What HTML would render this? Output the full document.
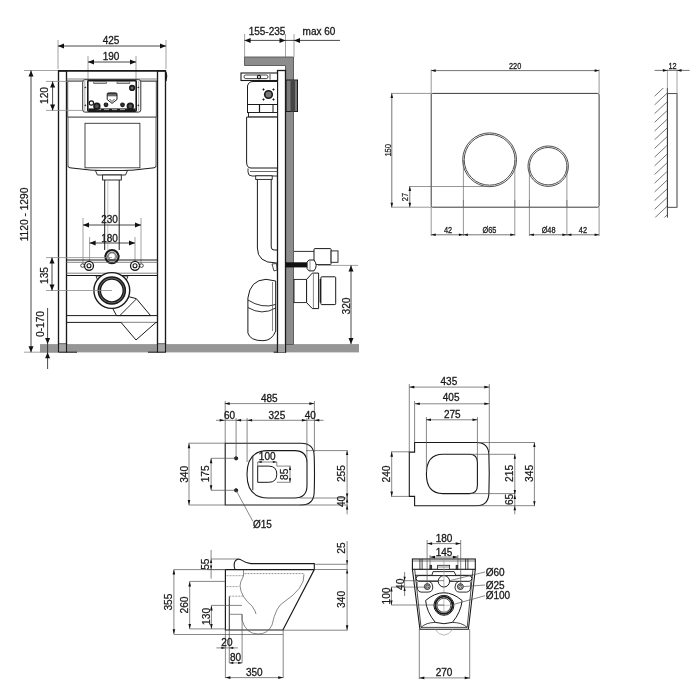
<!DOCTYPE html><html><head><meta charset="utf-8"><style>html,body{margin:0;padding:0;background:#fff;overflow:hidden;}svg{display:block;will-change:transform;}text{font-family:"Liberation Sans",sans-serif;}</style></head><body>
<svg width="700" height="700" viewBox="0 0 700 700">
<rect width="700" height="700" fill="#fff"/>
<rect x="40" y="344.1" width="319" height="8.3" rx="0" stroke="none" stroke-width="0" fill="#969696" />
<line x1="58" y1="40" x2="58" y2="69" stroke="#8a8a8a" stroke-width="0.8" />
<line x1="166" y1="40" x2="166" y2="69" stroke="#8a8a8a" stroke-width="0.8" />
<line x1="58" y1="46" x2="166" y2="46" stroke="#1a1a1a" stroke-width="0.8" />
<polygon points="58.00,46.00 64.00,43.50 64.00,48.50" fill="#111"/>
<polygon points="166.00,46.00 160.00,43.50 160.00,48.50" fill="#111"/>
<text x="0" y="3.58" font-size="10.00" fill="#1a1a1a" stroke="#1a1a1a" stroke-width="0.3" text-anchor="middle" transform="translate(111,40.5) scale(1.0,1)">425</text>
<line x1="88" y1="56" x2="88" y2="79" stroke="#8a8a8a" stroke-width="0.8" />
<line x1="136" y1="56" x2="136" y2="79" stroke="#8a8a8a" stroke-width="0.8" />
<line x1="88" y1="62" x2="136" y2="62" stroke="#1a1a1a" stroke-width="0.8" />
<polygon points="88.00,62.00 94.00,59.50 94.00,64.50" fill="#111"/>
<polygon points="136.00,62.00 130.00,59.50 130.00,64.50" fill="#111"/>
<text x="0" y="3.58" font-size="10.00" fill="#1a1a1a" stroke="#1a1a1a" stroke-width="0.3" text-anchor="middle" transform="translate(111,56.5) scale(1.0,1)">190</text>
<rect x="58.5" y="70.7" width="8" height="273.4" rx="0" stroke="#1a1a1a" stroke-width="1.35" fill="#fff" />
<rect x="157.5" y="70.7" width="8" height="273.4" rx="0" stroke="#1a1a1a" stroke-width="1.35" fill="#fff" />
<rect x="58.5" y="344.1" width="8" height="8.1" rx="0" stroke="none" stroke-width="0" fill="#a4a4a4" />
<rect x="157.5" y="344.1" width="8" height="8.1" rx="0" stroke="none" stroke-width="0" fill="#a4a4a4" />
<line x1="58.5" y1="344" x2="58.5" y2="352.5" stroke="#1a1a1a" stroke-width="1.1" />
<line x1="66.5" y1="344" x2="66.5" y2="352.5" stroke="#1a1a1a" stroke-width="1.1" />
<line x1="157.5" y1="344" x2="157.5" y2="352.5" stroke="#1a1a1a" stroke-width="1.1" />
<line x1="165.5" y1="344" x2="165.5" y2="352.5" stroke="#1a1a1a" stroke-width="1.1" />
<line x1="59" y1="352.2" x2="77" y2="352.2" stroke="#1a1a1a" stroke-width="1" />
<line x1="148" y1="352.2" x2="165.5" y2="352.2" stroke="#1a1a1a" stroke-width="1" />
<line x1="58.5" y1="70.9" x2="165.5" y2="70.9" stroke="#1a1a1a" stroke-width="1.6" />
<path d="M166,72 Q167.5,76 166,81" stroke="#1a1a1a" stroke-width="1.2" fill="none" />
<line x1="66.5" y1="79" x2="157.5" y2="79" stroke="#666" stroke-width="0.8" />
<line x1="66.5" y1="81.1" x2="157.5" y2="81.1" stroke="#1a1a1a" stroke-width="1.0" />
<line x1="67.7" y1="117.1" x2="156.3" y2="117.1" stroke="#1a1a1a" stroke-width="0.9" />
<line x1="67.7" y1="81.1" x2="67.7" y2="117.1" stroke="#333" stroke-width="0.8" />
<line x1="156.3" y1="81.1" x2="156.3" y2="117.1" stroke="#333" stroke-width="0.8" />
<rect x="82.7" y="79.7" width="58.1" height="32.4" rx="2.2" stroke="#333" stroke-width="1.0" fill="#fff" />
<line x1="84.8" y1="81" x2="84.8" y2="110.8" stroke="#999" stroke-width="0.8" />
<line x1="138.7" y1="81" x2="138.7" y2="110.8" stroke="#999" stroke-width="0.8" />
<circle cx="85.3" cy="87.4" r="0.5" stroke="#1a1a1a" stroke-width="0.6" fill="#1a1a1a" />
<circle cx="85.3" cy="105.3" r="0.5" stroke="#1a1a1a" stroke-width="0.6" fill="#1a1a1a" />
<circle cx="138.3" cy="87.4" r="0.5" stroke="#1a1a1a" stroke-width="0.6" fill="#1a1a1a" />
<circle cx="138.3" cy="105.3" r="0.5" stroke="#1a1a1a" stroke-width="0.6" fill="#1a1a1a" />
<rect x="87.8" y="80.6" width="48.4" height="30.6" rx="1" stroke="#1a1a1a" stroke-width="1.6" fill="#fff" />
<rect x="93.7" y="81.8" width="12.8" height="1.6" rx="0" stroke="#444" stroke-width="0.7" fill="#ddd" />
<rect x="117" y="81.8" width="12.8" height="1.6" rx="0" stroke="#444" stroke-width="0.7" fill="#ddd" />
<rect x="88.5" y="108.4" width="47" height="2.8" rx="0" stroke="none" stroke-width="0" fill="#1a1a1a" />
<line x1="96" y1="109.6" x2="101" y2="109.6" stroke="#fff" stroke-width="0.6" />
<line x1="104" y1="109.6" x2="109" y2="109.6" stroke="#fff" stroke-width="0.6" />
<line x1="112" y1="109.6" x2="117" y2="109.6" stroke="#fff" stroke-width="0.6" />
<line x1="120" y1="109.6" x2="125" y2="109.6" stroke="#fff" stroke-width="0.6" />
<circle cx="91.4" cy="103" r="2.2" stroke="#1a1a1a" stroke-width="1.2" fill="#fff" />
<circle cx="96.9" cy="106.2" r="2.8" stroke="#1a1a1a" stroke-width="1.8" fill="#555" />
<circle cx="130.3" cy="106.2" r="2.8" stroke="#1a1a1a" stroke-width="1.8" fill="#555" />
<circle cx="106" cy="104.8" r="1.8" stroke="#1a1a1a" stroke-width="1.2" fill="#333" />
<circle cx="122.5" cy="104.8" r="1.8" stroke="#1a1a1a" stroke-width="1.2" fill="#333" />
<circle cx="132.1" cy="87.9" r="2.3" stroke="#1a1a1a" stroke-width="1.6" fill="#666" />
<path d="M107.2,94 Q107.2,92.9 108.5,92.9 L115.7,92.9 Q117,92.9 117,94 L117,99.5 L112,103.4 L107.2,99.5 Z" stroke="#1a1a1a" stroke-width="1.0" fill="#fff" />
<rect x="107.5" y="93.2" width="9.2" height="3" rx="0" stroke="none" stroke-width="0" fill="#1a1a1a" />
<line x1="108" y1="95" x2="116" y2="95" stroke="#fff" stroke-width="0.7" />
<path d="M109.5,99 L112,101.5 L114.5,99" stroke="#1a1a1a" stroke-width="0.8" fill="none" />
<rect x="85" y="123.3" width="54.9" height="44.5" rx="0" stroke="#333" stroke-width="0.9" fill="none" />
<line x1="68" y1="117.1" x2="68" y2="166" stroke="#333" stroke-width="0.8" />
<line x1="156" y1="117.1" x2="156" y2="166" stroke="#333" stroke-width="0.8" />
<path d="M68,166 Q68,167.5 70,167.8 Q112,174 154,167.8 Q156,167.5 156,166" stroke="#1a1a1a" stroke-width="1.0" fill="none" />
<path d="M95.4,170.5 L127.5,170.5 L125.5,175 L97.4,175 Z" stroke="#1a1a1a" stroke-width="0.9" fill="#fff" />
<rect x="102.6" y="175" width="18.7" height="5" rx="0" stroke="#1a1a1a" stroke-width="0.9" fill="#fff" />
<line x1="104.7" y1="180" x2="104.7" y2="250" stroke="#1a1a1a" stroke-width="1.0" />
<line x1="119.2" y1="180" x2="119.2" y2="250" stroke="#1a1a1a" stroke-width="1.0" />
<line x1="107.8" y1="180" x2="107.8" y2="250" stroke="#aaa" stroke-width="0.7" />
<line x1="83" y1="218" x2="83" y2="266" stroke="#8a8a8a" stroke-width="0.8" />
<line x1="141" y1="218" x2="141" y2="266" stroke="#8a8a8a" stroke-width="0.8" />
<line x1="83" y1="225" x2="141" y2="225" stroke="#1a1a1a" stroke-width="0.8" />
<polygon points="83.00,225.00 89.00,222.50 89.00,227.50" fill="#111"/>
<polygon points="141.00,225.00 135.00,222.50 135.00,227.50" fill="#111"/>
<text x="0" y="3.58" font-size="10.00" fill="#1a1a1a" stroke="#1a1a1a" stroke-width="0.3" text-anchor="middle" transform="translate(109.5,219.3) scale(1.0,1)">230</text>
<line x1="89.6" y1="237" x2="89.6" y2="266" stroke="#8a8a8a" stroke-width="0.8" />
<line x1="135" y1="237" x2="135" y2="266" stroke="#8a8a8a" stroke-width="0.8" />
<line x1="89.6" y1="243" x2="135" y2="243" stroke="#1a1a1a" stroke-width="0.8" />
<polygon points="89.60,243.00 95.60,240.50 95.60,245.50" fill="#111"/>
<polygon points="135.00,243.00 129.00,240.50 129.00,245.50" fill="#111"/>
<text x="0" y="3.58" font-size="10.00" fill="#1a1a1a" stroke="#1a1a1a" stroke-width="0.3" text-anchor="middle" transform="translate(109.5,238.5) scale(1.0,1)">180</text>
<circle cx="112" cy="256.6" r="6.6" stroke="#1a1a1a" stroke-width="2.2" fill="#fff" />
<circle cx="112" cy="256.6" r="4.4" stroke="#444" stroke-width="0.9" fill="#ddd" />
<path d="M109,254 L112,252.8 L115,254 L115.5,257 L113,259.8 L110,259.5 L108.5,257 Z" stroke="#666" stroke-width="0.7" fill="#fff" />
<line x1="66.5" y1="260" x2="157.5" y2="260" stroke="#1a1a1a" stroke-width="1.0" />
<line x1="66.5" y1="262.3" x2="157.5" y2="262.3" stroke="#666" stroke-width="0.8" />
<line x1="66.5" y1="273.2" x2="157.5" y2="273.2" stroke="#666" stroke-width="0.8" />
<line x1="66.5" y1="275.5" x2="157.5" y2="275.5" stroke="#1a1a1a" stroke-width="1.0" />
<circle cx="89" cy="265.8" r="4.5" stroke="#1a1a1a" stroke-width="1.3" fill="#fff" />
<circle cx="89" cy="265.8" r="2.0" stroke="#1a1a1a" stroke-width="1.1" fill="none" />
<circle cx="135" cy="265.8" r="4.5" stroke="#1a1a1a" stroke-width="1.3" fill="#fff" />
<circle cx="135" cy="265.8" r="2.0" stroke="#1a1a1a" stroke-width="1.1" fill="none" />
<circle cx="82.5" cy="265.6" r="1.8" stroke="#1a1a1a" stroke-width="0.8" fill="#fff" />
<circle cx="141.5" cy="265.6" r="1.8" stroke="#1a1a1a" stroke-width="0.8" fill="#fff" />
<path d="M96,276 L128,276 L126,281 L98,281 Z" stroke="#1a1a1a" stroke-width="0.9" fill="#fff" />
<path d="M113,309 L129.4,296.9 L136.3,298.6 L150.6,315.6 L116.5,315.6 Z" stroke="#1a1a1a" stroke-width="1.0" fill="#fff" />
<line x1="120.3" y1="315.1" x2="136.3" y2="299" stroke="#1a1a1a" stroke-width="0.9" />
<circle cx="111.8" cy="290.5" r="17.9" stroke="#1a1a1a" stroke-width="1.4" fill="#fff" />
<circle cx="111.8" cy="290.5" r="13.5" stroke="#1a1a1a" stroke-width="1.6" fill="#777" />
<circle cx="111.8" cy="290.5" r="11.4" stroke="#1a1a1a" stroke-width="1.4" fill="#fff" />
<line x1="66.5" y1="315.6" x2="157.5" y2="315.6" stroke="#1a1a1a" stroke-width="1.0" />
<line x1="66.5" y1="322.4" x2="157.5" y2="322.4" stroke="#1a1a1a" stroke-width="1.0" />
<path d="M121,322.4 L136,340 L156,322.4" stroke="#1a1a1a" stroke-width="1.0" fill="#fff" />
<line x1="24" y1="70.5" x2="58" y2="70.5" stroke="#8a8a8a" stroke-width="0.8" />
<line x1="24" y1="352.2" x2="58" y2="352.2" stroke="#8a8a8a" stroke-width="0.8" />
<line x1="31" y1="70.5" x2="31" y2="352.2" stroke="#1a1a1a" stroke-width="0.8" />
<polygon points="31.00,70.50 28.50,76.50 33.50,76.50" fill="#111"/>
<polygon points="31.00,352.20 28.50,346.20 33.50,346.20" fill="#111"/>
<text x="0" y="3.65" font-size="10.20" fill="#1a1a1a" stroke="#1a1a1a" stroke-width="0.22" text-anchor="middle" transform="translate(24.5,214.5) rotate(-90) scale(1.0,1)">1120 - 1290</text>
<line x1="46" y1="81.4" x2="84" y2="81.4" stroke="#8a8a8a" stroke-width="0.8" />
<line x1="46" y1="110.4" x2="84" y2="110.4" stroke="#8a8a8a" stroke-width="0.8" />
<line x1="52.6" y1="81.4" x2="52.6" y2="110.4" stroke="#1a1a1a" stroke-width="0.8" />
<polygon points="52.60,81.40 50.10,87.40 55.10,87.40" fill="#111"/>
<polygon points="52.60,110.40 50.10,104.40 55.10,104.40" fill="#111"/>
<text x="0" y="3.65" font-size="10.20" fill="#1a1a1a" stroke="#1a1a1a" stroke-width="0.22" text-anchor="middle" transform="translate(44.8,95.5) rotate(-90) scale(1.0,1)">120</text>
<line x1="46" y1="257.6" x2="112" y2="257.6" stroke="#8a8a8a" stroke-width="0.8" />
<line x1="46" y1="290.5" x2="112" y2="290.5" stroke="#8a8a8a" stroke-width="0.8" />
<line x1="52" y1="257.6" x2="52" y2="290.5" stroke="#1a1a1a" stroke-width="0.8" />
<polygon points="52.00,257.60 49.50,263.60 54.50,263.60" fill="#111"/>
<polygon points="52.00,290.50 49.50,284.50 54.50,284.50" fill="#111"/>
<text x="0" y="3.65" font-size="10.20" fill="#1a1a1a" stroke="#1a1a1a" stroke-width="0.22" text-anchor="middle" transform="translate(44,275.5) rotate(-90) scale(1.0,1)">135</text>
<line x1="47.6" y1="308" x2="47.6" y2="369" stroke="#1a1a1a" stroke-width="0.8" />
<polygon points="47.60,344.10 45.10,338.10 50.10,338.10" fill="#111"/>
<polygon points="47.60,352.20 45.10,358.20 50.10,358.20" fill="#111"/>
<text x="0" y="3.65" font-size="10.20" fill="#1a1a1a" stroke="#1a1a1a" stroke-width="0.22" text-anchor="middle" transform="translate(40.5,324) rotate(-90) scale(1.0,1)">0-170</text>
<line x1="244.6" y1="34" x2="244.6" y2="57" stroke="#8a8a8a" stroke-width="0.8" />
<line x1="285.5" y1="34" x2="285.5" y2="70" stroke="#8a8a8a" stroke-width="0.8" />
<line x1="294" y1="34" x2="294" y2="57" stroke="#8a8a8a" stroke-width="0.8" />
<line x1="244.6" y1="40.4" x2="340" y2="40.4" stroke="#1a1a1a" stroke-width="0.8" />
<polygon points="244.60,40.40 250.60,37.90 250.60,42.90" fill="#111"/>
<polygon points="285.50,40.40 279.50,37.90 279.50,42.90" fill="#111"/>
<polygon points="294.00,40.40 300.00,37.90 300.00,42.90" fill="#111"/>
<text x="0" y="3.58" font-size="10.00" fill="#1a1a1a" stroke="#1a1a1a" stroke-width="0.3" text-anchor="middle" transform="translate(267,31.5) scale(1.0,1)">155-235</text>
<text x="0" y="3.58" font-size="10.00" fill="#1a1a1a" stroke="#1a1a1a" stroke-width="0.3" text-anchor="middle" transform="translate(319,31.5) scale(1.0,1)">max 60</text>
<path d="M244.5,57 L293.5,57 L293.5,344.5 L285.5,344.5 L285.5,65.5 L244.5,65.5 Z" stroke="#555" stroke-width="0.9" fill="#8c8c8c" />
<rect x="286" y="80" width="11.5" height="31.5" rx="0" stroke="#1a1a1a" stroke-width="1.0" fill="#7a7a7a" />
<rect x="290.5" y="80" width="4.5" height="31.5" rx="0" stroke="none" stroke-width="0" fill="#444" />
<rect x="277.5" y="70.5" width="8" height="281.5" rx="0" stroke="#1a1a1a" stroke-width="1.3" fill="#fff" />
<rect x="241" y="73" width="36.5" height="7.5" rx="0" stroke="#1a1a1a" stroke-width="1.1" fill="#fff" />
<rect x="244" y="75" width="24" height="3.6" rx="1.8" stroke="#1a1a1a" stroke-width="0.8" fill="#fff" />
<circle cx="259" cy="77" r="1.6" stroke="#1a1a1a" stroke-width="1.2" fill="#fff" />
<line x1="270" y1="74" x2="270" y2="79.5" stroke="#1a1a1a" stroke-width="0.8" />
<path d="M247.5,104.5 L247.5,86 Q248.5,81.5 253,81.5 L277.5,81.5 L277.5,104.5 Z" stroke="#1a1a1a" stroke-width="1.0" fill="#fff" />
<circle cx="268.5" cy="94.5" r="3.8" stroke="#1a1a1a" stroke-width="1.6" fill="#777" />
<circle cx="263.5" cy="89.5" r="0.7" stroke="#1a1a1a" stroke-width="0.8" fill="#1a1a1a" />
<circle cx="273.5" cy="89.5" r="0.7" stroke="#1a1a1a" stroke-width="0.8" fill="#1a1a1a" />
<circle cx="263.5" cy="99.5" r="0.7" stroke="#1a1a1a" stroke-width="0.8" fill="#1a1a1a" />
<circle cx="273.5" cy="99.5" r="0.7" stroke="#1a1a1a" stroke-width="0.8" fill="#1a1a1a" />
<rect x="247.5" y="104.5" width="30" height="8" rx="0" stroke="#1a1a1a" stroke-width="1.0" fill="#fff" />
<line x1="259.5" y1="104.5" x2="259.5" y2="112.5" stroke="#1a1a1a" stroke-width="1.2" />
<line x1="273" y1="104.5" x2="273" y2="112.5" stroke="#1a1a1a" stroke-width="1.0" />
<rect x="248.5" y="112.5" width="29" height="4.5" rx="0" stroke="#1a1a1a" stroke-width="0.9" fill="#fff" />
<path d="M246.6,117.1 L277.5,117.1 L277.5,168 L251,168 Q246.6,168 246.6,162 Z" stroke="#1a1a1a" stroke-width="1.0" fill="#fff" />
<path d="M248,168.5 L248,172 Q248,176 252,176 L277.5,176" stroke="#1a1a1a" stroke-width="0.9" fill="#fff" />
<line x1="250" y1="171.5" x2="277.5" y2="171.5" stroke="#444" stroke-width="0.8" />
<rect x="255.7" y="175.8" width="16.5" height="3.6" rx="0" stroke="#1a1a1a" stroke-width="0.9" fill="#fff" />
<path d="M257.4,179.4 L257.4,248 Q257.4,262.9 275.7,262.9 L277.5,262.9" stroke="#1a1a1a" stroke-width="1.0" fill="none" />
<path d="M271.2,179.4 L271.2,247 Q271.4,250 274,250 L277.5,250" stroke="#1a1a1a" stroke-width="1.0" fill="none" />
<path d="M272,264 L276.5,263.5 L277,270 L274,271 Z" stroke="#1a1a1a" stroke-width="0.8" fill="#fff" />
<path d="M247.9,333 L247.9,298 Q250,280 266,279.3 L275.7,281 L275.7,331 Q272,340.7 262.9,340.7 Q250,340.7 247.9,333 Z" stroke="#1a1a1a" stroke-width="1.0" fill="#fff" />
<path d="M247.9,300 Q262,309 275.7,304.5" stroke="#1a1a1a" stroke-width="0.9" fill="none" />
<path d="M247.9,307.5 Q262,316 275.7,308" stroke="#1a1a1a" stroke-width="0.9" fill="none" />
<line x1="272.5" y1="282" x2="272.5" y2="331" stroke="#555" stroke-width="0.7" />
<rect x="277.5" y="344.1" width="8" height="8.1" rx="0" stroke="none" stroke-width="0" fill="#a4a4a4" />
<line x1="277.5" y1="344" x2="277.5" y2="352.5" stroke="#1a1a1a" stroke-width="1.1" />
<line x1="285.5" y1="344" x2="285.5" y2="352.5" stroke="#1a1a1a" stroke-width="1.0" />
<line x1="273.6" y1="352.2" x2="277.5" y2="352.2" stroke="#1a1a1a" stroke-width="1.0" />
<line x1="294" y1="251.4" x2="314" y2="251.4" stroke="#1a1a1a" stroke-width="0.9" />
<rect x="314" y="248.6" width="17.1" height="16" rx="0.8" stroke="#1a1a1a" stroke-width="1.0" fill="#fff" />
<rect x="331.1" y="250.9" width="6.9" height="11.4" rx="0" stroke="#1a1a1a" stroke-width="0.9" fill="#fff" />
<rect x="285.5" y="262.3" width="21.6" height="5.1" rx="0" stroke="none" stroke-width="0" fill="#111" />
<path d="M307.1,262 L309,260 L314,260 Q318.3,265.5 314,270.9 L309,270.9 L307.1,268.5 Z" stroke="#1a1a1a" stroke-width="1.0" fill="#fff" />
<line x1="310" y1="260.5" x2="310" y2="270.5" stroke="#666" stroke-width="0.7" />
<rect x="294" y="279.4" width="12.6" height="23.2" rx="0" stroke="#1a1a1a" stroke-width="0.9" fill="#fff" />
<path d="M306.6,279.4 L312.3,273.1 L318.6,273.1 L318.6,308.6 L312.3,308.6 L306.6,302.6 Z" stroke="#1a1a1a" stroke-width="1.0" fill="#fff" />
<line x1="313.4" y1="274" x2="313.4" y2="308" stroke="#888" stroke-width="1.0" />
<rect x="319.7" y="279" width="1.4" height="23.6" rx="0" stroke="none" stroke-width="0" fill="#111" />
<rect x="320.9" y="276.8" width="14.8" height="27.8" rx="0.8" stroke="#1a1a1a" stroke-width="1.0" fill="#fff" />
<line x1="318" y1="265.4" x2="358" y2="265.4" stroke="#8a8a8a" stroke-width="0.8" />
<line x1="351" y1="265.4" x2="351" y2="344.1" stroke="#1a1a1a" stroke-width="0.8" />
<polygon points="351.00,265.40 348.50,271.40 353.50,271.40" fill="#111"/>
<polygon points="351.00,344.10 348.50,338.10 353.50,338.10" fill="#111"/>
<text x="0" y="3.65" font-size="10.20" fill="#1a1a1a" stroke="#1a1a1a" stroke-width="0.22" text-anchor="middle" transform="translate(346,306) rotate(-90) scale(1.0,1)">320</text>
<rect x="431.2" y="93.4" width="167.9" height="113.8" rx="1.5" stroke="#3a3a3a" stroke-width="1.0" fill="none" />
<circle cx="489.6" cy="159.8" r="26.9" stroke="#3a3a3a" stroke-width="0.9" fill="none" />
<circle cx="489.6" cy="159.8" r="25.4" stroke="#3a3a3a" stroke-width="0.9" fill="none" />
<circle cx="548.2" cy="166.2" r="20.2" stroke="#3a3a3a" stroke-width="0.9" fill="none" />
<circle cx="548.2" cy="166.2" r="18.7" stroke="#3a3a3a" stroke-width="0.9" fill="none" />
<line x1="431.2" y1="69.5" x2="431.2" y2="93.4" stroke="#6a6a6a" stroke-width="0.7" />
<line x1="599.1" y1="69.5" x2="599.1" y2="93.4" stroke="#6a6a6a" stroke-width="0.7" />
<line x1="431.2" y1="70.6" x2="599.1" y2="70.6" stroke="#3a3a3a" stroke-width="0.7" />
<polygon points="431.20,70.60 435.70,69.30 435.70,71.90" fill="#111"/>
<polygon points="599.10,70.60 594.60,69.30 594.60,71.90" fill="#111"/>
<text x="0" y="3.29" font-size="9.20" fill="#1a1a1a" stroke="#1a1a1a" stroke-width="0.3" text-anchor="middle" transform="translate(515.1,65.8) scale(0.8,1)">220</text>
<line x1="391" y1="93.4" x2="431.2" y2="93.4" stroke="#6a6a6a" stroke-width="0.7" />
<line x1="391" y1="207.2" x2="431.2" y2="207.2" stroke="#6a6a6a" stroke-width="0.7" />
<line x1="391.8" y1="93.4" x2="391.8" y2="207.2" stroke="#3a3a3a" stroke-width="0.7" />
<polygon points="391.80,93.40 390.50,97.90 393.10,97.90" fill="#111"/>
<polygon points="391.80,207.20 390.50,202.70 393.10,202.70" fill="#111"/>
<text x="0" y="3.36" font-size="9.38" fill="#1a1a1a" stroke="#1a1a1a" stroke-width="0.22" text-anchor="middle" transform="translate(387.7,150.3) rotate(-90) scale(0.8,1)">150</text>
<line x1="409" y1="186.5" x2="489.6" y2="186.5" stroke="#6a6a6a" stroke-width="0.7" />
<line x1="409.8" y1="186.5" x2="409.8" y2="207.2" stroke="#3a3a3a" stroke-width="0.7" />
<polygon points="409.80,186.50 408.50,191.00 411.10,191.00" fill="#111"/>
<polygon points="409.80,207.20 408.50,202.70 411.10,202.70" fill="#111"/>
<text x="0" y="3.36" font-size="9.38" fill="#1a1a1a" stroke="#1a1a1a" stroke-width="0.22" text-anchor="middle" transform="translate(405.1,197) rotate(-90) scale(0.8,1)">27</text>
<line x1="431.2" y1="207.2" x2="431.2" y2="236" stroke="#6a6a6a" stroke-width="0.7" />
<line x1="463.4" y1="200" x2="463.4" y2="236" stroke="#6a6a6a" stroke-width="0.7" />
<line x1="514.8" y1="200" x2="514.8" y2="236" stroke="#6a6a6a" stroke-width="0.7" />
<line x1="529.4" y1="200" x2="529.4" y2="236" stroke="#6a6a6a" stroke-width="0.7" />
<line x1="566.9" y1="200" x2="566.9" y2="236" stroke="#6a6a6a" stroke-width="0.7" />
<line x1="599.1" y1="207.2" x2="599.1" y2="236" stroke="#6a6a6a" stroke-width="0.7" />
<line x1="463.4" y1="160" x2="463.4" y2="207.2" stroke="#6a6a6a" stroke-width="0.7" />
<line x1="514.8" y1="160" x2="514.8" y2="207.2" stroke="#6a6a6a" stroke-width="0.7" />
<line x1="529.4" y1="166" x2="529.4" y2="207.2" stroke="#6a6a6a" stroke-width="0.7" />
<line x1="566.9" y1="166" x2="566.9" y2="207.2" stroke="#6a6a6a" stroke-width="0.7" />
<line x1="431.2" y1="234.8" x2="514.8" y2="234.8" stroke="#3a3a3a" stroke-width="0.7" />
<line x1="529.4" y1="234.8" x2="599.1" y2="234.8" stroke="#3a3a3a" stroke-width="0.7" />
<polygon points="431.20,234.80 435.70,233.50 435.70,236.10" fill="#111"/>
<polygon points="463.40,234.80 458.90,233.50 458.90,236.10" fill="#111"/>
<polygon points="463.40,234.80 467.90,233.50 467.90,236.10" fill="#111"/>
<polygon points="514.80,234.80 510.30,233.50 510.30,236.10" fill="#111"/>
<polygon points="529.40,234.80 533.90,233.50 533.90,236.10" fill="#111"/>
<polygon points="566.90,234.80 562.40,233.50 562.40,236.10" fill="#111"/>
<polygon points="566.90,234.80 571.40,233.50 571.40,236.10" fill="#111"/>
<polygon points="599.10,234.80 594.60,233.50 594.60,236.10" fill="#111"/>
<text x="0" y="3.29" font-size="9.20" fill="#1a1a1a" stroke="#1a1a1a" stroke-width="0.3" text-anchor="middle" transform="translate(448,230.0) scale(0.8,1)">42</text>
<text x="0" y="3.29" font-size="9.20" fill="#1a1a1a" stroke="#1a1a1a" stroke-width="0.3" text-anchor="middle" transform="translate(489.4,230.0) scale(0.8,1)">Ø65</text>
<text x="0" y="3.29" font-size="9.20" fill="#1a1a1a" stroke="#1a1a1a" stroke-width="0.3" text-anchor="middle" transform="translate(548.6,230.0) scale(0.8,1)">Ø48</text>
<text x="0" y="3.29" font-size="9.20" fill="#1a1a1a" stroke="#1a1a1a" stroke-width="0.3" text-anchor="middle" transform="translate(582.9,230.0) scale(0.8,1)">42</text>
<rect x="667.4" y="93.6" width="9.6" height="113.7" rx="0" stroke="#3a3a3a" stroke-width="0.9" fill="none" />
<line x1="677" y1="93.6" x2="677" y2="207.3" stroke="#999" stroke-width="1.2" />
<line x1="667.4" y1="88" x2="667.4" y2="217.6" stroke="#3a3a3a" stroke-width="1.0" />
<line x1="667.4" y1="69.5" x2="667.4" y2="93.6" stroke="#6a6a6a" stroke-width="0.6" />
<line x1="677" y1="69.5" x2="677" y2="93.6" stroke="#6a6a6a" stroke-width="0.6" />
<line x1="654.6" y1="70.4" x2="689.7" y2="70.4" stroke="#3a3a3a" stroke-width="0.7" />
<polygon points="667.40,70.40 662.90,69.10 662.90,71.70" fill="#111"/>
<polygon points="677.00,70.40 681.50,69.10 681.50,71.70" fill="#111"/>
<text x="0" y="3.29" font-size="9.20" fill="#1a1a1a" stroke="#1a1a1a" stroke-width="0.3" text-anchor="middle" transform="translate(672.6,65.7) scale(0.8,1)">12</text>
<clipPath id="hc"><rect x="653.5" y="88" width="13.9" height="129.6"/></clipPath><g clip-path="url(#hc)">
<line x1="667.4" y1="214.7" x2="654.6" y2="226.7" stroke="#555" stroke-width="0.8" />
<line x1="667.4" y1="206.0" x2="654.6" y2="218.0" stroke="#555" stroke-width="0.8" />
<line x1="667.4" y1="197.3" x2="654.6" y2="209.3" stroke="#555" stroke-width="0.8" />
<line x1="667.4" y1="188.6" x2="654.6" y2="200.6" stroke="#555" stroke-width="0.8" />
<line x1="667.4" y1="179.9" x2="654.6" y2="191.9" stroke="#555" stroke-width="0.8" />
<line x1="667.4" y1="171.2" x2="654.6" y2="183.2" stroke="#555" stroke-width="0.8" />
<line x1="667.4" y1="162.5" x2="654.6" y2="174.5" stroke="#555" stroke-width="0.8" />
<line x1="667.4" y1="153.8" x2="654.6" y2="165.8" stroke="#555" stroke-width="0.8" />
<line x1="667.4" y1="145.10000000000002" x2="654.6" y2="157.10000000000002" stroke="#555" stroke-width="0.8" />
<line x1="667.4" y1="136.4" x2="654.6" y2="148.4" stroke="#555" stroke-width="0.8" />
<line x1="667.4" y1="127.7" x2="654.6" y2="139.7" stroke="#555" stroke-width="0.8" />
<line x1="667.4" y1="119.0" x2="654.6" y2="131.0" stroke="#555" stroke-width="0.8" />
<line x1="667.4" y1="110.30000000000001" x2="654.6" y2="122.30000000000001" stroke="#555" stroke-width="0.8" />
<line x1="667.4" y1="101.60000000000001" x2="654.6" y2="113.60000000000001" stroke="#555" stroke-width="0.8" />
<line x1="667.4" y1="92.9" x2="654.6" y2="104.9" stroke="#555" stroke-width="0.8" />
<line x1="667.4" y1="84.20000000000002" x2="654.6" y2="96.20000000000002" stroke="#555" stroke-width="0.8" />
</g>
<path d="M225.2,443.2 L301,443.2 Q314,443.2 314.2,456 Q314.8,474.2 314.2,492 Q314,505 301,505 L225.2,505 Z" stroke="#1a1a1a" stroke-width="1.1" fill="none" />
<path d="M268,450.6 L294.5,450.6 Q307,450.6 307,463 L307,485.5 Q307,498 294.5,498 L268,498 Q247,498 247,474.3 Q247,450.6 268,450.6 Z" stroke="#1a1a1a" stroke-width="1.1" fill="none" />
<line x1="252.8" y1="456" x2="252.8" y2="490.3" stroke="#1a1a1a" stroke-width="0.9" />
<path d="M257.7,466.1 L268.7,466.1 Q276.8,466.1 276.8,474.2 Q276.8,482.3 268.7,482.3 L257.7,482.3 Z" stroke="#1a1a1a" stroke-width="1.0" fill="none" />
<circle cx="236.1" cy="458.3" r="1.6" stroke="#1a1a1a" stroke-width="1" fill="#1a1a1a" />
<circle cx="236.1" cy="490.3" r="1.6" stroke="#1a1a1a" stroke-width="1" fill="#1a1a1a" />
<line x1="225.2" y1="401" x2="225.2" y2="443" stroke="#555" stroke-width="0.7" />
<line x1="314.4" y1="401" x2="314.4" y2="452" stroke="#555" stroke-width="0.7" />
<line x1="224.7" y1="403.6" x2="314.3" y2="403.6" stroke="#555" stroke-width="0.7" />
<polygon points="224.70,403.60 229.70,402.30 229.70,404.90" fill="#111"/>
<polygon points="314.30,403.60 309.30,402.30 309.30,404.90" fill="#111"/>
<text x="0" y="3.58" font-size="10.00" fill="#1a1a1a" stroke="#1a1a1a" stroke-width="0.3" text-anchor="middle" transform="translate(269.3,398.6) scale(1.0,1)">485</text>
<line x1="236.1" y1="418" x2="236.1" y2="458.3" stroke="#555" stroke-width="0.7" />
<line x1="247.1" y1="418" x2="247.1" y2="462" stroke="#555" stroke-width="0.7" />
<line x1="306.9" y1="418" x2="306.9" y2="462" stroke="#555" stroke-width="0.7" />
<line x1="216" y1="420.3" x2="323.6" y2="420.3" stroke="#555" stroke-width="0.7" />
<polygon points="224.70,420.30 219.70,419.00 219.70,421.60" fill="#111"/>
<polygon points="236.10,420.30 241.10,419.00 241.10,421.60" fill="#111"/>
<polygon points="247.10,420.30 252.10,419.00 252.10,421.60" fill="#111"/>
<polygon points="306.90,420.30 301.90,419.00 301.90,421.60" fill="#111"/>
<polygon points="314.30,420.30 319.30,419.00 319.30,421.60" fill="#111"/>
<text x="0" y="3.58" font-size="10.00" fill="#1a1a1a" stroke="#1a1a1a" stroke-width="0.3" text-anchor="middle" transform="translate(229.5,415.0) scale(1.0,1)">60</text>
<text x="0" y="3.58" font-size="10.00" fill="#1a1a1a" stroke="#1a1a1a" stroke-width="0.3" text-anchor="middle" transform="translate(276.9,415.0) scale(1.0,1)">325</text>
<text x="0" y="3.58" font-size="10.00" fill="#1a1a1a" stroke="#1a1a1a" stroke-width="0.3" text-anchor="middle" transform="translate(310.3,415.0) scale(1.0,1)">40</text>
<line x1="188.6" y1="443.2" x2="225.2" y2="443.2" stroke="#555" stroke-width="0.7" />
<line x1="188.6" y1="505" x2="225.2" y2="505" stroke="#555" stroke-width="0.7" />
<line x1="189" y1="443.2" x2="189" y2="505" stroke="#555" stroke-width="0.7" />
<polygon points="189.00,443.20 187.70,448.20 190.30,448.20" fill="#111"/>
<polygon points="189.00,505.00 187.70,500.00 190.30,500.00" fill="#111"/>
<text x="0" y="3.65" font-size="10.20" fill="#1a1a1a" stroke="#1a1a1a" stroke-width="0.22" text-anchor="middle" transform="translate(184,474.3) rotate(-90) scale(1.0,1)">340</text>
<line x1="211.1" y1="458.3" x2="236.1" y2="458.3" stroke="#555" stroke-width="0.7" />
<line x1="211.1" y1="490.3" x2="236.1" y2="490.3" stroke="#555" stroke-width="0.7" />
<line x1="211.1" y1="458.3" x2="211.1" y2="490.3" stroke="#555" stroke-width="0.7" />
<polygon points="211.10,458.30 209.80,463.30 212.40,463.30" fill="#111"/>
<polygon points="211.10,490.30 209.80,485.30 212.40,485.30" fill="#111"/>
<text x="0" y="3.65" font-size="10.20" fill="#1a1a1a" stroke="#1a1a1a" stroke-width="0.22" text-anchor="middle" transform="translate(205.7,473.8) rotate(-90) scale(1.0,1)">175</text>
<line x1="257.7" y1="462" x2="276.8" y2="462" stroke="#555" stroke-width="0.7" />
<line x1="257.7" y1="462" x2="257.7" y2="466" stroke="#555" stroke-width="0.7" />
<line x1="276.8" y1="462" x2="276.8" y2="466" stroke="#555" stroke-width="0.7" />
<polygon points="257.70,462.00 261.70,460.90 261.70,463.10" fill="#111"/>
<polygon points="276.80,462.00 272.80,460.90 272.80,463.10" fill="#111"/>
<text x="0" y="3.58" font-size="10.00" fill="#1a1a1a" stroke="#1a1a1a" stroke-width="0.3" text-anchor="middle" transform="translate(267.2,456.9) scale(1.0,1)">100</text>
<line x1="276.8" y1="466.1" x2="290.5" y2="466.1" stroke="#555" stroke-width="0.7" />
<line x1="276.8" y1="482.3" x2="290.5" y2="482.3" stroke="#555" stroke-width="0.7" />
<line x1="290" y1="466.1" x2="290" y2="482.3" stroke="#555" stroke-width="0.7" />
<polygon points="290.00,466.10 288.90,470.10 291.10,470.10" fill="#111"/>
<polygon points="290.00,482.30 288.90,478.30 291.10,478.30" fill="#111"/>
<text x="0" y="3.65" font-size="10.20" fill="#1a1a1a" stroke="#1a1a1a" stroke-width="0.22" text-anchor="middle" transform="translate(284.6,474.3) rotate(-90) scale(1.0,1)">85</text>
<line x1="306" y1="450.6" x2="347.5" y2="450.6" stroke="#555" stroke-width="0.7" />
<line x1="300" y1="498" x2="347.5" y2="498" stroke="#555" stroke-width="0.7" />
<line x1="300" y1="505" x2="347.5" y2="505" stroke="#555" stroke-width="0.7" />
<line x1="347.1" y1="450.4" x2="347.1" y2="514.3" stroke="#555" stroke-width="0.7" />
<polygon points="347.10,450.60 345.90,455.10 348.30,455.10" fill="#111"/>
<polygon points="347.10,498.00 345.90,493.50 348.30,493.50" fill="#111"/>
<polygon points="347.10,498.00 345.90,502.50 348.30,502.50" fill="#111"/>
<polygon points="347.10,505.00 345.90,509.50 348.30,509.50" fill="#111"/>
<text x="0" y="3.65" font-size="10.20" fill="#1a1a1a" stroke="#1a1a1a" stroke-width="0.22" text-anchor="middle" transform="translate(341.4,473.6) rotate(-90) scale(1.0,1)">255</text>
<text x="0" y="3.65" font-size="10.20" fill="#1a1a1a" stroke="#1a1a1a" stroke-width="0.22" text-anchor="middle" transform="translate(341.4,501.4) rotate(-90) scale(1.0,1)">40</text>
<line x1="236.1" y1="490.3" x2="252.9" y2="521.4" stroke="#555" stroke-width="0.7" />
<text x="0" y="3.58" font-size="10.00" fill="#1a1a1a" stroke="#1a1a1a" stroke-width="0.3" text-anchor="start" transform="translate(253,524.3) scale(1.0,1)">Ø15</text>
<path d="M414.6,442.5 L476.5,442.5 Q488.6,442.5 488.9,455 Q489.6,474 488.9,493 Q488.6,505.7 476.5,505.7 L414.6,505.7 L414.6,496.4 L409.3,496.4 L409.3,452.1 L414.6,452.1 Z" stroke="#1a1a1a" stroke-width="1.1" fill="none" />
<path d="M443,454.3 L469.5,454.3 Q477.4,454.3 477.4,462.5 L477.4,485.5 Q477.4,493.6 469.5,493.6 L443,493.6 Q426.4,493.6 426.4,474 Q426.4,454.3 443,454.3 Z" stroke="#1a1a1a" stroke-width="1.1" fill="none" />
<line x1="409.3" y1="384" x2="409.3" y2="452.1" stroke="#555" stroke-width="0.7" />
<line x1="489.3" y1="384" x2="489.3" y2="452" stroke="#555" stroke-width="0.7" />
<line x1="409.3" y1="387.1" x2="489.3" y2="387.1" stroke="#555" stroke-width="0.7" />
<polygon points="409.30,387.10 414.30,385.80 414.30,388.40" fill="#111"/>
<polygon points="489.30,387.10 484.30,385.80 484.30,388.40" fill="#111"/>
<text x="0" y="3.58" font-size="10.00" fill="#1a1a1a" stroke="#1a1a1a" stroke-width="0.3" text-anchor="middle" transform="translate(448.9,381.4) scale(1.0,1)">435</text>
<line x1="414.6" y1="401" x2="414.6" y2="442.5" stroke="#555" stroke-width="0.7" />
<line x1="414.8" y1="403.8" x2="489.3" y2="403.8" stroke="#555" stroke-width="0.7" />
<polygon points="414.80,403.80 419.80,402.50 419.80,405.10" fill="#111"/>
<polygon points="489.30,403.80 484.30,402.50 484.30,405.10" fill="#111"/>
<text x="0" y="3.58" font-size="10.00" fill="#1a1a1a" stroke="#1a1a1a" stroke-width="0.3" text-anchor="middle" transform="translate(451.1,397.9) scale(1.0,1)">405</text>
<line x1="426.4" y1="417" x2="426.4" y2="472" stroke="#555" stroke-width="0.7" />
<line x1="477.4" y1="417" x2="477.4" y2="462" stroke="#555" stroke-width="0.7" />
<line x1="426" y1="419.8" x2="477.5" y2="419.8" stroke="#555" stroke-width="0.7" />
<polygon points="426.00,419.80 431.00,418.50 431.00,421.10" fill="#111"/>
<polygon points="477.50,419.80 472.50,418.50 472.50,421.10" fill="#111"/>
<text x="0" y="3.58" font-size="10.00" fill="#1a1a1a" stroke="#1a1a1a" stroke-width="0.3" text-anchor="middle" transform="translate(452.3,414.6) scale(1.0,1)">275</text>
<line x1="391" y1="451.8" x2="409.3" y2="451.8" stroke="#555" stroke-width="0.7" />
<line x1="391" y1="496.4" x2="409.3" y2="496.4" stroke="#555" stroke-width="0.7" />
<line x1="391.7" y1="451.8" x2="391.7" y2="496.4" stroke="#555" stroke-width="0.7" />
<polygon points="391.70,451.80 390.40,456.80 393.00,456.80" fill="#111"/>
<polygon points="391.70,496.40 390.40,491.40 393.00,491.40" fill="#111"/>
<text x="0" y="3.65" font-size="10.20" fill="#1a1a1a" stroke="#1a1a1a" stroke-width="0.22" text-anchor="middle" transform="translate(386,474) rotate(-90) scale(1.0,1)">240</text>
<line x1="470" y1="454.3" x2="515.5" y2="454.3" stroke="#555" stroke-width="0.7" />
<line x1="470" y1="493.6" x2="515.5" y2="493.6" stroke="#555" stroke-width="0.7" />
<line x1="478" y1="442.5" x2="535" y2="442.5" stroke="#555" stroke-width="0.7" />
<line x1="478" y1="505.7" x2="535" y2="505.7" stroke="#555" stroke-width="0.7" />
<line x1="514.8" y1="454.2" x2="514.8" y2="514.3" stroke="#555" stroke-width="0.7" />
<polygon points="514.80,454.20 513.60,458.70 516.00,458.70" fill="#111"/>
<polygon points="514.80,494.40 513.60,489.90 516.00,489.90" fill="#111"/>
<polygon points="514.80,494.40 513.60,498.90 516.00,498.90" fill="#111"/>
<polygon points="514.80,505.80 513.60,510.30 516.00,510.30" fill="#111"/>
<line x1="534.4" y1="442.6" x2="534.4" y2="505.8" stroke="#555" stroke-width="0.7" />
<polygon points="534.40,442.60 533.20,447.10 535.60,447.10" fill="#111"/>
<polygon points="534.40,505.80 533.20,501.30 535.60,501.30" fill="#111"/>
<text x="0" y="3.65" font-size="10.20" fill="#1a1a1a" stroke="#1a1a1a" stroke-width="0.22" text-anchor="middle" transform="translate(509.3,473.4) rotate(-90) scale(1.0,1)">215</text>
<text x="0" y="3.65" font-size="10.20" fill="#1a1a1a" stroke="#1a1a1a" stroke-width="0.22" text-anchor="middle" transform="translate(509.3,499.4) rotate(-90) scale(1.0,1)">65</text>
<text x="0" y="3.65" font-size="10.20" fill="#1a1a1a" stroke="#1a1a1a" stroke-width="0.22" text-anchor="middle" transform="translate(529.7,473.4) rotate(-90) scale(1.0,1)">345</text>
<path d="M225.4,569.6 L314.3,569.6 L282.9,630 L225.4,630 Z" stroke="#1a1a1a" stroke-width="1.2" fill="none" />
<line x1="229.3" y1="596.4" x2="229.3" y2="630" stroke="#1a1a1a" stroke-width="0.9" />
<path d="M235,569.6 Q233.2,564.5 235.2,561 Q237.2,558.2 240.5,559.6 Q245,562.6 251,563.6 L314.3,563.6 L314.3,569.6" stroke="#1a1a1a" stroke-width="1.1" fill="none" />
<line x1="244.5" y1="573.6" x2="304" y2="573.6" stroke="#666" stroke-width="0.7" stroke-dasharray="2,1"/>
<line x1="226.5" y1="575.7" x2="243" y2="575.7" stroke="#777" stroke-width="0.7" stroke-dasharray="2,1"/>
<path d="M304,574.3 Q305,588 284,602 Q276,606 272,625 Q268,634 258,634 Q246,634 242,620 L242,614.3 L229.3,614.3" stroke="#555" stroke-width="0.7" fill="none" />
<path d="M243.5,570 L243.5,576 Q240,582 240,586 Q241,597 252,606 Q256,612 256,614" stroke="#555" stroke-width="0.7" fill="none" />
<line x1="226.5" y1="586.6" x2="239" y2="586.6" stroke="#777" stroke-width="0.7" stroke-dasharray="2,1"/>
<line x1="229.3" y1="596.2" x2="244" y2="596.2" stroke="#777" stroke-width="0.7" stroke-dasharray="2,1"/>
<line x1="211.1" y1="550" x2="211.1" y2="578.6" stroke="#555" stroke-width="0.7" />
<polygon points="211.10,559.00 210.00,563.00 212.20,563.00" fill="#111"/>
<polygon points="211.10,569.60 210.00,565.60 212.20,565.60" fill="#111"/>
<line x1="211.1" y1="559" x2="238" y2="559" stroke="#555" stroke-width="0.7" />
<line x1="207" y1="569.6" x2="225.4" y2="569.6" stroke="#555" stroke-width="0.7" />
<text x="0" y="3.65" font-size="10.20" fill="#1a1a1a" stroke="#1a1a1a" stroke-width="0.22" text-anchor="middle" transform="translate(205.4,564.2) rotate(-90) scale(1.0,1)">55</text>
<line x1="173.9" y1="569.6" x2="225.4" y2="569.6" stroke="#555" stroke-width="0.7" />
<line x1="173.9" y1="634.5" x2="283" y2="634.5" stroke="#555" stroke-width="0.7" />
<line x1="173.9" y1="569.6" x2="173.9" y2="634.3" stroke="#555" stroke-width="0.7" />
<polygon points="173.90,569.60 172.60,574.60 175.20,574.60" fill="#111"/>
<polygon points="173.90,634.30 172.60,629.30 175.20,629.30" fill="#111"/>
<text x="0" y="3.65" font-size="10.20" fill="#1a1a1a" stroke="#1a1a1a" stroke-width="0.22" text-anchor="middle" transform="translate(167.9,602.1) rotate(-90) scale(1.0,1)">355</text>
<line x1="189.7" y1="581.4" x2="225.4" y2="581.4" stroke="#555" stroke-width="0.7" />
<line x1="189.7" y1="628.9" x2="225.4" y2="628.9" stroke="#555" stroke-width="0.7" />
<line x1="189.7" y1="581.4" x2="189.7" y2="628.9" stroke="#555" stroke-width="0.7" />
<polygon points="189.70,581.40 188.40,586.40 191.00,586.40" fill="#111"/>
<polygon points="189.70,628.90 188.40,623.90 191.00,623.90" fill="#111"/>
<text x="0" y="3.65" font-size="10.20" fill="#1a1a1a" stroke="#1a1a1a" stroke-width="0.22" text-anchor="middle" transform="translate(184.3,605) rotate(-90) scale(1.0,1)">260</text>
<line x1="211.4" y1="605.4" x2="242" y2="605.4" stroke="#555" stroke-width="0.7" />
<line x1="211.4" y1="605.4" x2="211.4" y2="628.9" stroke="#555" stroke-width="0.7" />
<polygon points="211.40,605.40 210.10,610.40 212.70,610.40" fill="#111"/>
<polygon points="211.40,628.90 210.10,623.90 212.70,623.90" fill="#111"/>
<text x="0" y="3.65" font-size="10.20" fill="#1a1a1a" stroke="#1a1a1a" stroke-width="0.22" text-anchor="middle" transform="translate(206.4,616.4) rotate(-90) scale(1.0,1)">130</text>
<line x1="225.4" y1="630" x2="225.4" y2="678" stroke="#555" stroke-width="0.7" />
<line x1="229.3" y1="630" x2="229.3" y2="663" stroke="#555" stroke-width="0.7" />
<line x1="242.1" y1="614.3" x2="242.1" y2="663" stroke="#555" stroke-width="0.7" />
<line x1="283.2" y1="630" x2="283.2" y2="678" stroke="#555" stroke-width="0.7" />
<line x1="216.4" y1="647.9" x2="237.9" y2="647.9" stroke="#555" stroke-width="0.7" />
<polygon points="225.40,647.90 221.40,646.80 221.40,649.00" fill="#111"/>
<polygon points="229.30,647.90 233.30,646.80 233.30,649.00" fill="#111"/>
<text x="0" y="3.58" font-size="10.00" fill="#1a1a1a" stroke="#1a1a1a" stroke-width="0.3" text-anchor="middle" transform="translate(226.9,642.9) scale(1.0,1)">20</text>
<line x1="229.3" y1="662.9" x2="242.1" y2="662.9" stroke="#555" stroke-width="0.7" />
<polygon points="229.30,662.90 233.30,661.80 233.30,664.00" fill="#111"/>
<polygon points="242.10,662.90 238.10,661.80 238.10,664.00" fill="#111"/>
<text x="0" y="3.58" font-size="10.00" fill="#1a1a1a" stroke="#1a1a1a" stroke-width="0.3" text-anchor="middle" transform="translate(235.6,657.9) scale(1.0,1)">80</text>
<line x1="225.4" y1="677.6" x2="283.2" y2="677.6" stroke="#555" stroke-width="0.7" />
<polygon points="225.40,677.60 230.40,676.30 230.40,678.90" fill="#111"/>
<polygon points="283.20,677.60 278.20,676.30 278.20,678.90" fill="#111"/>
<text x="0" y="3.58" font-size="10.00" fill="#1a1a1a" stroke="#1a1a1a" stroke-width="0.3" text-anchor="middle" transform="translate(254.3,672.1) scale(1.0,1)">350</text>
<line x1="314.3" y1="564.3" x2="347.5" y2="564.3" stroke="#555" stroke-width="0.7" />
<line x1="314.3" y1="569.5" x2="347.5" y2="569.5" stroke="#555" stroke-width="0.7" />
<line x1="283" y1="630.2" x2="347.5" y2="630.2" stroke="#555" stroke-width="0.7" />
<line x1="347.1" y1="541" x2="347.1" y2="630.2" stroke="#555" stroke-width="0.7" />
<polygon points="347.10,564.30 346.00,560.30 348.20,560.30" fill="#111"/>
<polygon points="347.10,569.50 346.00,573.50 348.20,573.50" fill="#111"/>
<polygon points="347.10,630.20 345.80,625.20 348.40,625.20" fill="#111"/>
<text x="0" y="3.65" font-size="10.20" fill="#1a1a1a" stroke="#1a1a1a" stroke-width="0.22" text-anchor="middle" transform="translate(341.4,548) rotate(-90) scale(1.0,1)">25</text>
<text x="0" y="3.65" font-size="10.20" fill="#1a1a1a" stroke="#1a1a1a" stroke-width="0.22" text-anchor="middle" transform="translate(341.4,599.4) rotate(-90) scale(1.0,1)">340</text>
<rect x="412.4" y="559" width="62.9" height="10.3" rx="0" stroke="#1a1a1a" stroke-width="1.1" fill="#fff" />
<line x1="412.4" y1="561" x2="475.3" y2="561" stroke="#444" stroke-width="0.7" />
<line x1="419.9" y1="559" x2="419.9" y2="569.3" stroke="#1a1a1a" stroke-width="0.8" />
<line x1="422.1" y1="559" x2="422.1" y2="569.3" stroke="#1a1a1a" stroke-width="0.8" />
<line x1="465.6" y1="559" x2="465.6" y2="569.3" stroke="#1a1a1a" stroke-width="0.8" />
<line x1="467.9" y1="559" x2="467.9" y2="569.3" stroke="#1a1a1a" stroke-width="0.8" />
<rect x="429.9" y="565.3" width="1.8" height="4" rx="0" stroke="#1a1a1a" stroke-width="0.7" fill="#444" />
<rect x="456.1" y="565.3" width="1.8" height="4" rx="0" stroke="#1a1a1a" stroke-width="0.7" fill="#444" />
<rect x="437.6" y="565.3" width="12" height="4" rx="0" stroke="#1a1a1a" stroke-width="0.8" fill="#fff" />
<line x1="438" y1="567" x2="449.5" y2="567" stroke="#666" stroke-width="0.7" />
<path d="M412.4,569.3 L419.9,629.3 L468.4,629.3 L475.3,569.3" stroke="#1a1a1a" stroke-width="1.1" fill="none" />
<path d="M414.7,569.3 L421,627.4 L467.2,627.4 L473,569.3" stroke="#1a1a1a" stroke-width="0.8" fill="none" />
<path d="M415,575.3 L431.9,575.3 L433,571.6 L454.1,571.6 L455.9,575.3 L472.5,575.3" stroke="#1a1a1a" stroke-width="0.9" fill="none" />
<path d="M418.9,575.6 L469.1,575.6 Q471.9,575.6 471.9,578.4 Q471.9,581.3 469.1,581.3 L418.9,581.3 Q416.1,581.3 416.1,578.4 Q416.1,575.6 418.9,575.6 Z" stroke="#1a1a1a" stroke-width="1.0" fill="#fff" />
<circle cx="443.9" cy="581.3" r="5.7" stroke="#1a1a1a" stroke-width="1.0" fill="#fff" />
<path d="M417,582 Q416.4,592.1 421,592.1 L428,592.1 Q432.8,592.1 432.8,587 Q432.8,582.5 429,581.3" stroke="#1a1a1a" stroke-width="0.9" fill="none" />
<path d="M470.8,582 Q471.4,592.1 466.8,592.1 L459.8,592.1 Q455,592.1 455,587 Q455,582.5 458.8,581.3" stroke="#1a1a1a" stroke-width="0.9" fill="none" />
<circle cx="427.3" cy="586.6" r="2.9" stroke="#1a1a1a" stroke-width="1.0" fill="#fff" />
<circle cx="427.3" cy="586.6" r="1.6" stroke="#1a1a1a" stroke-width="0.8" fill="none" />
<circle cx="460.4" cy="586.6" r="2.9" stroke="#1a1a1a" stroke-width="1.0" fill="#fff" />
<circle cx="460.4" cy="586.6" r="1.6" stroke="#1a1a1a" stroke-width="0.8" fill="none" />
<path d="M425.6,600.5 Q443.9,585 462.1,600.5 Q461,612 452.4,622.4 Q443.9,625 435.3,622.4 Q426.6,612 425.6,600.5 Z" stroke="#1a1a1a" stroke-width="1.0" fill="none" />
<circle cx="443.9" cy="605.3" r="10" stroke="#1a1a1a" stroke-width="1.0" fill="#fff" />
<circle cx="443.9" cy="605.3" r="8.6" stroke="#1a1a1a" stroke-width="1.8" fill="none" />
<circle cx="443.9" cy="605.3" r="7" stroke="#1a1a1a" stroke-width="0.8" fill="none" />
<line x1="436" y1="605.3" x2="452" y2="605.3" stroke="#999" stroke-width="0.6" />
<line x1="443.9" y1="597" x2="443.9" y2="613" stroke="#999" stroke-width="0.6" />
<line x1="443.9" y1="560" x2="443.9" y2="592" stroke="#999" stroke-width="0.7" />
<path d="M421,627.4 Q426,622.5 435.3,622.4" stroke="#1a1a1a" stroke-width="0.8" fill="none" />
<path d="M467.2,627.4 Q462,622.5 452.4,622.4" stroke="#1a1a1a" stroke-width="0.8" fill="none" />
<path d="M434.8,629.3 Q443.9,641 453,629.3" stroke="#999" stroke-width="0.7" fill="none" />
<line x1="427.1" y1="540" x2="427.1" y2="587" stroke="#555" stroke-width="0.7" />
<line x1="460.7" y1="540" x2="460.7" y2="587" stroke="#555" stroke-width="0.7" />
<line x1="427.1" y1="543.6" x2="460.7" y2="543.6" stroke="#555" stroke-width="0.7" />
<polygon points="427.10,543.60 432.10,542.30 432.10,544.90" fill="#111"/>
<polygon points="460.70,543.60 455.70,542.30 455.70,544.90" fill="#111"/>
<text x="0" y="3.58" font-size="10.00" fill="#1a1a1a" stroke="#1a1a1a" stroke-width="0.3" text-anchor="middle" transform="translate(444,538.9) scale(1.0,1)">180</text>
<line x1="430" y1="555" x2="430" y2="565" stroke="#555" stroke-width="0.7" />
<line x1="457.9" y1="555" x2="457.9" y2="565" stroke="#555" stroke-width="0.7" />
<line x1="430" y1="557.1" x2="457.9" y2="557.1" stroke="#555" stroke-width="0.7" />
<polygon points="430.00,557.10 435.00,555.80 435.00,558.40" fill="#111"/>
<polygon points="457.90,557.10 452.90,555.80 452.90,558.40" fill="#111"/>
<text x="0" y="3.58" font-size="10.00" fill="#1a1a1a" stroke="#1a1a1a" stroke-width="0.3" text-anchor="middle" transform="translate(444,552.1) scale(1.0,1)">145</text>
<line x1="404" y1="580.7" x2="444" y2="580.7" stroke="#555" stroke-width="0.7" />
<line x1="391" y1="587.1" x2="427.6" y2="587.1" stroke="#555" stroke-width="0.7" />
<line x1="391" y1="605" x2="444" y2="605" stroke="#555" stroke-width="0.7" />
<line x1="404.6" y1="572" x2="404.6" y2="596" stroke="#555" stroke-width="0.7" />
<polygon points="404.60,580.70 403.50,576.70 405.70,576.70" fill="#111"/>
<polygon points="404.60,587.10 403.50,591.10 405.70,591.10" fill="#111"/>
<text x="0" y="3.65" font-size="10.20" fill="#1a1a1a" stroke="#1a1a1a" stroke-width="0.22" text-anchor="middle" transform="translate(400,584.3) rotate(-90) scale(1.0,1)">40</text>
<line x1="391.4" y1="587.1" x2="391.4" y2="605" stroke="#555" stroke-width="0.7" />
<polygon points="391.40,587.10 390.20,591.60 392.60,591.60" fill="#111"/>
<polygon points="391.40,605.00 390.20,600.50 392.60,600.50" fill="#111"/>
<text x="0" y="3.65" font-size="10.20" fill="#1a1a1a" stroke="#1a1a1a" stroke-width="0.22" text-anchor="middle" transform="translate(385.9,596) rotate(-90) scale(1.0,1)">100</text>
<line x1="419.3" y1="629" x2="419.3" y2="679" stroke="#555" stroke-width="0.7" />
<line x1="469.7" y1="629" x2="469.7" y2="679" stroke="#555" stroke-width="0.7" />
<line x1="419.3" y1="677.9" x2="469.7" y2="677.9" stroke="#555" stroke-width="0.7" />
<polygon points="419.30,677.90 424.30,676.60 424.30,679.20" fill="#111"/>
<polygon points="469.70,677.90 464.70,676.60 464.70,679.20" fill="#111"/>
<text x="0" y="3.58" font-size="10.00" fill="#1a1a1a" stroke="#1a1a1a" stroke-width="0.3" text-anchor="middle" transform="translate(444,672.6) scale(1.0,1)">270</text>
<line x1="449.5" y1="580.7" x2="485" y2="572" stroke="#555" stroke-width="0.7" />
<line x1="463.3" y1="586.6" x2="485" y2="585" stroke="#555" stroke-width="0.7" />
<line x1="453.9" y1="604.3" x2="485" y2="595.7" stroke="#555" stroke-width="0.7" />
<text x="0" y="3.58" font-size="10.00" fill="#1a1a1a" stroke="#1a1a1a" stroke-width="0.3" text-anchor="start" transform="translate(485.7,572.1) scale(1.0,1)">Ø60</text>
<text x="0" y="3.58" font-size="10.00" fill="#1a1a1a" stroke="#1a1a1a" stroke-width="0.3" text-anchor="start" transform="translate(485.7,585.0) scale(1.0,1)">Ø25</text>
<text x="0" y="3.58" font-size="10.00" fill="#1a1a1a" stroke="#1a1a1a" stroke-width="0.3" text-anchor="start" transform="translate(485.7,595.7) scale(1.0,1)">Ø100</text>
</svg></body></html>
